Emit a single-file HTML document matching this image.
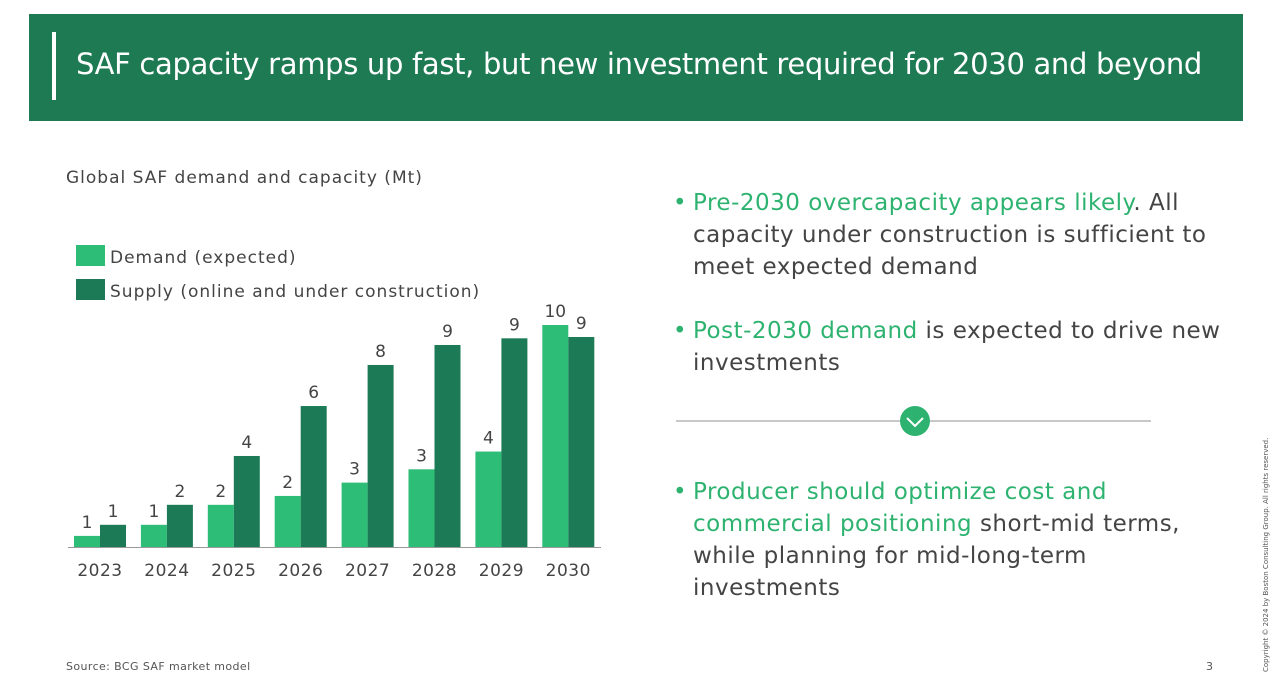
<!DOCTYPE html>
<html><head><meta charset="utf-8"><style>
body{margin:0;width:1280px;height:681px;background:#fff;position:relative;overflow:hidden;font-family:"DejaVu Sans","Liberation Sans",sans-serif;color:#333}
.abs{position:absolute}
#header{left:29px;top:14px;width:1214px;height:107px;background:#1e7a53}
#bar{left:52px;top:32px;width:4px;height:68px;background:#fff}
#title{left:76px;top:47px;color:#fff;font-size:29px;white-space:nowrap;letter-spacing:-0.32px}
.b{font-size:23px;line-height:32px;color:#444;letter-spacing:0.5px}
.g{color:#2db36f}
.bullet{position:absolute;left:-20px;color:#2db36f}
</style></head><body>
<div class="abs" id="header"></div>
<div class="abs" id="bar"></div>
<div class="abs" id="title">SAF capacity ramps up fast, but new investment required for 2030 and beyond</div>
<div class="abs" style="left:66px;top:168px;font-size:17px;color:#444;letter-spacing:1px">Global SAF demand and capacity (Mt)</div>
<svg class="abs" style="left:0;top:0" width="640" height="600" id="chart"></svg>
<div class="abs b" style="left:693px;top:187px;width:530px"><span class="bullet">•</span><span class="g">Pre-2030 overcapacity appears likely</span>. All capacity under construction is sufficient to meet expected demand</div>
<div class="abs b" style="left:693px;top:315px;width:530px"><span class="bullet">•</span><span class="g">Post-2030 demand</span> is expected to drive new investments</div>
<div class="abs" style="left:676px;top:420px;width:475px;height:2px;background:#c8c8c8"></div>
<svg class="abs" style="left:899px;top:405px" width="32" height="32"><circle cx="16" cy="16" r="15" fill="#2db36f"/><polyline points="8,13 16,21 24,13" fill="none" stroke="#fff" stroke-width="2"/></svg>
<div class="abs b" style="left:693px;top:476px;width:500px"><span class="bullet">•</span><span class="g">Producer should optimize cost and commercial positioning</span> short-mid terms, while planning for mid-long-term investments</div>
<div class="abs" style="left:66px;top:660px;font-size:11px;color:#555;letter-spacing:0.4px">Source: BCG SAF market model</div>
<div class="abs" style="left:1206px;top:660px;font-size:11px;color:#555">3</div>
<div class="abs" style="left:1262px;top:672px;font-size:7px;color:#555;transform:rotate(-90deg);transform-origin:0 0;white-space:nowrap">Copyright © 2024 by Boston Consulting Group. All rights reserved.</div>
<script>
const years=["2023","2024","2025","2026","2027","2028","2029","2030"];
const demand=[0.5,1.0,1.9,2.3,2.9,3.5,4.3,10];
const supply=[1.0,1.9,4.1,6.35,8.2,9.1,9.4,9.46];
const demandLabels=["1","1","2","2","3","3","4","10"];
const supplyLabels=["1","2","4","6","8","9","9","9"];
const svg=document.getElementById('chart');const NS='http://www.w3.org/2000/svg';
const base=547,scale=22.2,x0=74,step=66.9,bw=26;
const y=v=>base-v*scale;const x=i=>x0+i*step;
function mk(t,a){const e=document.createElementNS(NS,t);for(const k in a)e.setAttribute(k,a[k]);svg.appendChild(e);return e;}
function txt(s,xx,yy,sz,anchor,ls){const e=mk('text',{x:xx,y:yy,'font-size':sz,fill:'#444','text-anchor':anchor||'middle','letter-spacing':ls||0,'font-family':'DejaVu Sans, Liberation Sans, sans-serif'});e.textContent=s;return e;}
let r=mk('rect',{x:76,y:245,width:29,height:21,fill:'#2ebd77'});

r=mk('rect',{x:76,y:279,width:29,height:21,fill:'#1d7a56'});

let t=txt('Demand (expected)',110,263,17,'start',1);
t=txt('Supply (online and under construction)',110,297,17,'start',1);
years.forEach((yr,i)=>{
 let d=mk('rect',{x:x(i),y:y(demand[i]),width:bw,height:base-y(demand[i]),fill:'#2ebd77'});
 
 let s=mk('rect',{x:x(i)+bw,y:y(supply[i]),width:bw,height:base-y(supply[i]),fill:'#1d7a56'});
 
 let a=txt(demandLabels[i],x(i)+bw/2,y(demand[i])-8,17);
 let b=txt(supplyLabels[i],x(i)+bw*1.5,y(supply[i])-8,17);
 let l=txt(yr,x(i)+bw,576,17,'middle',0.5);
});
let ax=mk('line',{x1:68,x2:601,y1:base+0.5,y2:base+0.5,stroke:'#999','stroke-width':1});

</script>
</body></html>
